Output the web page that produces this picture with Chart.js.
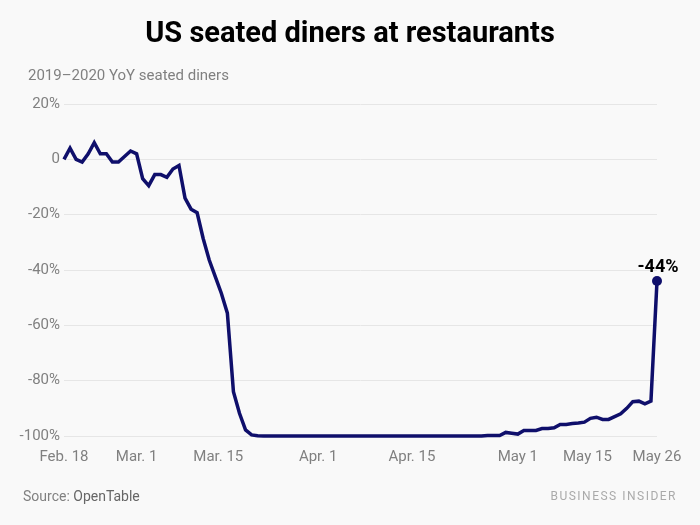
<!DOCTYPE html>
<html>
<head>
<meta charset="utf-8">
<script src="https://cdn.jsdelivr.net/npm/chart.js@4"></script>
<style>
  html, body { margin: 0; padding: 0; background: #f9f9f9; }
  #wrap { position: relative; width: 700px; height: 525px; }
  canvas { position: absolute; left: 0; top: 0; }
</style>
</head>
<body>
<div id="wrap"><canvas id="diners" width="700" height="525"></canvas></div>
<script>
// Data: days since Feb. 18, 2020 and YoY change in seated diners (%)
const dinerValues = [
  0, 4, 0, -1, 2, 6, 2, 2, -1, -1,
  1, 3, 2, -7, -9.5, -5.5, -5.5, -6.5, -3.5, -2.2,
  -14, -18, -19.3, -28.6, -36.4, -42.4, -48.4, -55.6, -84, -91.8,
  -97.8, -99.6, -99.9, -100, -100, -100, -100, -100, -100, -100,
  -100, -100, -100, -100, -100, -100, -100, -100, -100, -100,
  -100, -100, -100, -100, -100, -100, -100, -100, -100, -100,
  -100, -100, -100, -100, -100, -100, -100, -100, -100, -100,
  -99.8, -99.8, -99.8, -98.7, -99, -99.3, -98, -98, -98, -97.3,
  -97.3, -97, -95.8, -95.8, -95.5, -95.3, -95, -93.6, -93.2, -94,
  -94, -93, -92, -90, -87.6, -87.4, -88.4, -87.4, -44
];
const dayIndex = dinerValues.map((v, i) => i);

// x tick labels and where they sit (in days)
const tickLabels = ['Feb. 18', 'Mar. 1', 'Mar. 15', 'Apr. 1', 'Apr. 15', 'May 1', 'May 15', 'May 26'];
const tickDays = [0, 12, 25.5, 42, 57.5, 75, 86.5, 98];

const yTicks = [20, 0, -20, -40, -60, -80, -100];

const lineColor = '#0f0f6b';

// Title, subtitle, footer and end label
const textPlugin = {
  id: 'texts',
  afterDraw(chart) {
    const c = chart.ctx;
    c.save();
    c.fillStyle = '#000';
    c.font = 'bold 29px Roboto';
    c.textAlign = 'center';
    c.textBaseline = 'middle';
    c.fillText('US seated diners at restaurants', 350, 35);

    c.textAlign = 'left';
    c.fillStyle = '#808080';
    c.font = '15px Roboto';
    c.fillText('2019\u20132020 YoY seated diners', 28, 76);

    c.font = '14px Roboto';
    c.fillText('Source: ', 23, 497);
    const w = c.measureText('Source: ').width;
    c.fillStyle = '#666';
    c.fillText('OpenTable', 23 + w, 497);

    c.textAlign = 'right';
    c.fillStyle = '#aaa';
    c.font = '12px Roboto';
    c.letterSpacing = '1.5px';
    c.fillText('BUSINESS INSIDER', 677, 497);
    c.letterSpacing = '0px';

    // label for the last point
    const last = dinerValues.length - 1;
    const px = chart.scales.x.getPixelForValue(dayIndex[last]);
    const py = chart.scales.y.getPixelForValue(dinerValues[last]);
    c.textAlign = 'center';
    c.fillStyle = '#000';
    c.font = 'bold 18px Roboto';
    c.fillText(dinerValues[last] + '%', px + 1, py - 14);
    c.restore();
  }
};

new Chart(document.getElementById('diners').getContext('2d'), {
  type: 'line',
  data: {
    labels: dayIndex,
    datasets: [{
      data: dinerValues.map((v, i) => ({ x: dayIndex[i], y: v })),
      borderColor: lineColor,
      backgroundColor: lineColor,
      borderWidth: 3.5,
      tension: 0,
      clip: false,
      pointRadius: dinerValues.map((v, i) => i === dinerValues.length - 1 ? 5 : 0),
      pointBorderWidth: 0,
      pointHoverRadius: 0
    }]
  },
  options: {
    responsive: false,
    animation: false,
    layout: { padding: { top: 104, right: 43, bottom: 54, left: 0 } },
    plugins: { legend: { display: false }, tooltip: { enabled: false } },
    scales: {
      x: {
        type: 'linear',
        min: 0,
        max: 98,
        grid: { display: false },
        border: { display: false },
        afterBuildTicks: (s) => { s.ticks = tickDays.map(v => ({ value: v })); },
        afterFit: (s) => { s.height = 35; },
        ticks: {
          autoSkip: false,
          maxRotation: 0,
          color: '#808080',
          font: { family: 'Roboto', size: 15 },
          padding: 4,
          callback: (v, i) => tickLabels[i]
        }
      },
      y: {
        min: -100,
        max: 20,
        grid: { color: '#e6e6e6', drawTicks: false, lineWidth: 1 },
        border: { display: false },
        afterBuildTicks: (s) => { s.ticks = yTicks.map(v => ({ value: v })); },
        afterFit: (s) => { s.width = 64; },
        ticks: {
          color: '#808080',
          font: { family: 'Roboto', size: 15 },
          padding: 4,
          callback: (v) => v === 0 ? '0' : v + '%'
        }
      }
    }
  },
  plugins: [textPlugin]
});
</script>
</body>
</html>
